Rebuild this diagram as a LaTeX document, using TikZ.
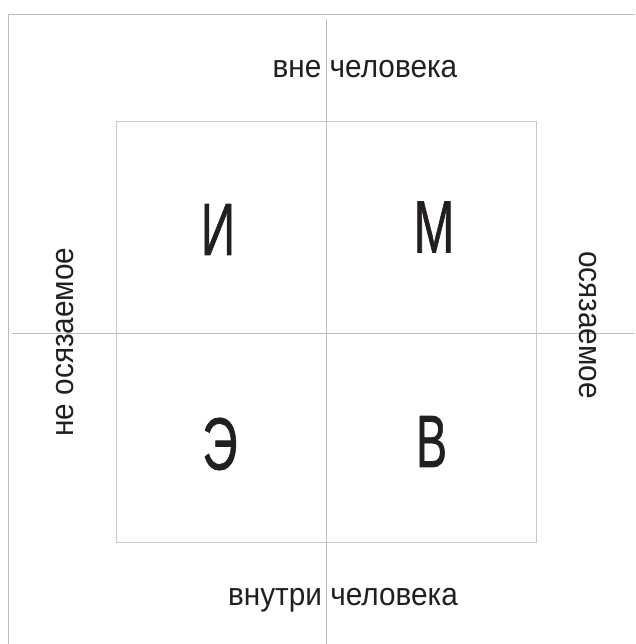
\documentclass[tikz,border=0pt]{standalone}
\usepackage{fontspec}
\setmainfont{Liberation Sans}
\newfontfamily\bigletters[FakeBold=1.1]{Liberation Sans}
\definecolor{ink}{RGB}{35,31,32}
\definecolor{rule}{RGB}{190,190,190}
\definecolor{boxline}{RGB}{200,200,200}
\newcommand{\narrowtext}[1]{\scalebox{0.93}[1]{#1}}
\newcommand{\narrowletter}[2]{\scalebox{#1}[1]{#2}}
\begin{document}
\begin{tikzpicture}[x=1pt,y=-1pt,
  axisline/.style={draw=rule,line width=1pt},
  boxstyle/.style={draw=boxline,line width=1pt},
  label/.style={text=ink,inner sep=0pt,font=\fontsize{32}{38}\selectfont},
  letter/.style={text=ink,inner sep=0pt,font=\bigletters\fontsize{74}{80}\selectfont}]
\useasboundingbox (0,0) rectangle (635,644);
% frame lines
\coordinate (tl) at (8,14.5);
\coordinate (tr) at (635,14.5);
\coordinate (bl) at (8,644);
\draw[axisline] (tl) -- (tr);
\draw[axisline] (tl) -- (bl);
% axes
\coordinate (vt) at (326,19);
\coordinate (vb) at (326,644);
\coordinate (hl) at (12,333.5);
\coordinate (hr) at (635,333.5);
\draw[axisline] (vt) -- (vb);
\draw[axisline] (hl) -- (hr);
% inner square
\node[boxstyle,minimum width=420pt,minimum height=420pt,inner sep=0pt] (sq) at (326,332) {};
% labels
\node[label,anchor=base] (top) at (365,77.5) {\narrowtext{вне человека}};
\node[label,anchor=base] (bottom) at (343,605) {\narrowtext{внутри человека}};
\node[label,anchor=base,rotate=90] (left) at (73,342) {\narrowtext{не осязаемое}};
\node[label,anchor=base,rotate=-90] (right) at (579,325) {\narrowtext{осязаемое}};
% letters
\node[letter] (I) at (218,229.5) {\narrowletter{0.64}{И}};
\node[letter] (M) at (434,227) {\narrowletter{0.66}{М}};
\node[letter] (E) at (220,444) {\narrowletter{0.66}{Э}};
\node[letter] (V) at (431.5,441.5) {\narrowletter{0.63}{В}};
\end{tikzpicture}
\end{document}
